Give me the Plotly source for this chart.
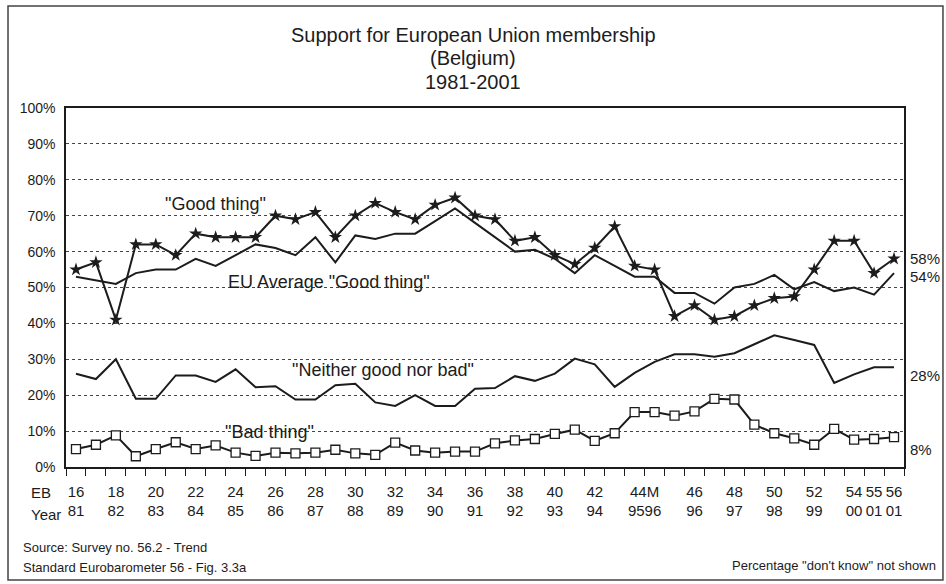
import plotly.graph_objects as go

# ---- data ----
eb = ["16", "17", "18", "19", "20", "21", "22", "23", "24", "25", "26", "27", "28", "29",
      "30", "31", "32", "33", "34", "35", "36", "37", "38", "39", "40", "41", "42", "43",
      "44", "44M", "45", "46", "47", "48", "49", "50", "51", "52", "53", "54", "55", "56"]

good_be = [55, 57, 41, 62, 62, 59, 65, 64, 64, 64, 70, 69, 71, 64,
           70, 73.5, 71, 69, 73, 75, 70, 69, 63, 64, 59, 56.5, 61, 67,
           56, 55, 42, 45, 41, 42, 45, 47, 47.5, 55, 63, 63, 54, 58]

eu_good = [53, 52, 51, 54, 55, 55, 58, 56, 59, 62, 61, 59, 64, 57,
           64.5, 63.5, 65, 65, 68.5, 72, 68, 64, 60, 60.5, 58, 54, 59, 56,
           53, 53, 48.5, 48.5, 45.5, 50, 51, 53.5, 49.5, 51.5, 49, 50, 48, 54]

neither = [26, 24.5, 30, 19, 19, 25.5, 25.5, 23.7, 27.2, 22.2, 22.5, 18.8, 18.8, 22.8,
           23.2, 18, 17, 20, 17, 17, 21.8, 22, 25.3, 24, 26, 30.2, 28.6, 22.3,
           26.2, 29.3, 31.4, 31.4, 30.7, 31.7, 34.2, 36.7, 35.4, 34, 23.4, 25.8, 27.8, 27.8]

bad = [5, 6.2, 8.8, 3, 5, 6.9, 5, 6, 4, 3.1, 4, 3.8, 4, 4.8,
       3.8, 3.4, 6.8, 4.6, 4, 4.3, 4.3, 6.6, 7.4, 7.8, 9.2, 10.4, 7.3, 9.4,
       15.3, 15.3, 14.3, 15.5, 19, 18.8, 11.8, 9.4, 8, 6.2, 10.6, 7.6, 7.8, 8.3]

tick_eb = ["16", "18", "20", "22", "24", "26", "28", "30", "32", "34", "36", "38", "40",
           "42", "44", "46", "48", "50", "52", "54", "55", "56"]
tick_eb_text = ["16", "18", "20", "22", "24", "26", "28", "30", "32", "34", "36", "38", "40",
                "42", "44M", "46", "48", "50", "52", "54", "55", "56"]
tick_year = ["81", "82", "83", "84", "85", "86", "87", "88", "89", "90", "91", "92", "93",
             "94", "9596", "96", "97", "98", "99", "00", "01", "01"]

y_ticks = [0, 10, 20, 30, 40, 50, 60, 70, 80, 90, 100]

# ---- figure ----
FONT = "Liberation Sans, Arial, sans-serif"
INK = "#1c1c1c"
x = list(range(len(eb)))

fig = go.Figure()
fig.add_trace(go.Scatter(x=x, y=eu_good, mode="lines", name="EU Average \"Good thing\"",
                         line=dict(color=INK, width=2)))
fig.add_trace(go.Scatter(x=x, y=good_be, mode="lines+markers", name="\"Good thing\"",
                         line=dict(color=INK, width=2),
                         marker=dict(symbol="star", size=10, color=INK)))
fig.add_trace(go.Scatter(x=x, y=neither, mode="lines", name="\"Neither good nor bad\"",
                         line=dict(color=INK, width=2)))
fig.add_trace(go.Scatter(x=x, y=bad, mode="lines+markers", name="\"Bad thing\"",
                         line=dict(color=INK, width=2),
                         marker=dict(symbol="square", size=9, color="white",
                                     line=dict(color=INK, width=1.3))))

tickvals = []
for t in tick_eb:
    i = eb.index(t)
    if t == "44":
        i += 0.5
    tickvals.append(i)
ticktext = [f"{a}<br>{b}" for a, b in zip(tick_eb_text, tick_year)]

fig.update_xaxes(range=[-0.5, len(eb) - 0.5], tickmode="array", tickvals=tickvals,
                 ticktext=ticktext, ticks="outside", ticklen=0, ticklabelstandoff=10,
                 tickfont=dict(family=FONT, size=15, color=INK),
                 showgrid=False, zeroline=False,
                 showline=True, linecolor=INK, linewidth=1.5, mirror=True,
                 minor=dict(tickmode="linear", tick0=-0.5, dtick=1, ticks="outside",
                            ticklen=7, tickcolor=INK, tickwidth=1.2, showgrid=False))
fig.update_yaxes(range=[0, 100], tickmode="array", tickvals=y_ticks,
                 ticktext=[f"{v}%" for v in y_ticks], ticks="", ticklabelstandoff=6,
                 tickfont=dict(family=FONT, size=14, color=INK),
                 showgrid=True, gridcolor="#444", griddash="dot", gridwidth=1,
                 zeroline=False, showline=True, linecolor=INK, linewidth=1.5, mirror=True)

ann = []
# title lines
for txt, yp in [("Support for European Union membership", 1.2033),
                 ("(Belgium)", 1.1393), ("1981-2001", 1.0724)]:
    ann.append(dict(text=txt, xref="paper", yref="paper", x=0.4857, y=yp,
                    showarrow=False, xanchor="center", yanchor="middle",
                    font=dict(family=FONT, size=20, color=INK)))
# series labels
for txt, xi, yv in [("\"Good thing\"", 7.0, 73.3), ("EU Average \"Good thing\"", 12.7, 51.5),
                    ("\"Neither good nor bad\"", 15.4, 26.9), ("\"Bad thing\"", 9.7, 9.7)]:
    ann.append(dict(text=txt, xref="x", yref="y", x=xi, y=yv, showarrow=False,
                    xanchor="center", yanchor="middle",
                    font=dict(family=FONT, size=18, color=INK)))
# right end labels
for series, ysh in [(good_be, 0), (eu_good, -3), (neither, -8), (bad, -12)]:
    v = series[-1]
    ann.append(dict(text=f"{round(v)}%", xref="paper", yref="y", x=1.005, y=v,
                    yshift=ysh, showarrow=False, xanchor="left", yanchor="middle",
                    font=dict(family=FONT, size=15, color=INK)))
# axis row captions
ann.append(dict(text="EB", xref="paper", yref="paper", x=-0.044, y=-0.0724,
                showarrow=False, xanchor="left", yanchor="middle",
                font=dict(family=FONT, size=15, color=INK)))
ann.append(dict(text="Year", xref="paper", yref="paper", x=-0.044, y=-0.131,
                showarrow=False, xanchor="left", yanchor="middle",
                font=dict(family=FONT, size=15, color=INK)))
# footnotes
ann.append(dict(text="Source: Survey no. 56.2 - Trend", xref="paper", yref="paper",
                x=-0.0537, y=-0.2256, showarrow=False, xanchor="left", yanchor="middle",
                font=dict(family=FONT, size=13, color=INK)))
ann.append(dict(text="Standard Eurobarometer 56 - Fig. 3.3a", xref="paper", yref="paper",
                x=-0.0537, y=-0.2813, showarrow=False, xanchor="left", yanchor="middle",
                font=dict(family=FONT, size=13, color=INK)))
ann.append(dict(text="Percentage \"don't know\" not shown", xref="paper", yref="paper",
                x=1.0405, y=-0.273, showarrow=False, xanchor="right", yanchor="middle",
                font=dict(family=FONT, size=13, color=INK)))

fig.update_layout(
    width=946, height=584,
    margin=dict(l=66, r=42, t=108, b=117),
    paper_bgcolor="white", plot_bgcolor="white",
    showlegend=False,
    annotations=ann,
    shapes=[dict(type="rect", xref="paper", yref="paper",
                 x0=-0.0692, x1=1.0465, y0=-0.3148, y1=1.284,
                 line=dict(color="#444", width=1.5), layer="above")],
)

fig.write_html("out.html", config={"displayModeBar": False},
               post_script="document.body.style.margin='0';document.body.style.overflow='hidden';")
